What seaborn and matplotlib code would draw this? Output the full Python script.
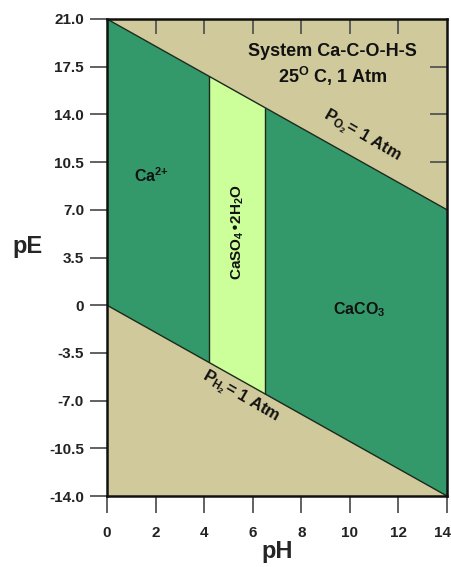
import numpy as np
import matplotlib
matplotlib.use("Agg")
import matplotlib.pyplot as plt
from matplotlib.transforms import ScaledTranslation
import seaborn as sns

# stability field boundaries (pH -> pE)
ph_edges = [0.0, 14.0]
pe_o2 = [21.0, 7.0]      # P_O2 = 1 atm
pe_h2 = [0.0, -14.0]     # P_H2 = 1 atm
gypsum_ph = [4.2, 6.5]   # CaSO4.2H2O field limits

x_ticks = [0, 2, 4, 6, 8, 10, 12, 14]
y_ticks = [21.0, 17.5, 14.0, 10.5, 7.0, 3.5, 0, -3.5, -7.0, -10.5, -14.0]
y_labels = ["21.0", "17.5", "14.0", "10.5", "7.0", "3.5", "0", "-3.5", "-7.0", "-10.5", "-14.0"]

tan = "#d0c99b"
green = "#33996a"
light = "#ccff99"

sns.set_style("ticks")
plt.rcParams["font.family"] = ["Liberation Sans", "DejaVu Sans"]
plt.rcParams["font.weight"] = "bold"
plt.rcParams["mathtext.default"] = "regular"

fig = plt.figure(figsize=(4.52, 5.67), dpi=100)
ax = fig.add_axes([0.2367, 0.1252, 0.7523, 0.8413])
ax.set_facecolor(tan)

# water stability field
ax.fill_between(ph_edges, pe_h2, pe_o2, color=green, lw=0)
gx = np.array(gypsum_ph)
ax.fill_between(gx, np.interp(gx, ph_edges, pe_h2), np.interp(gx, ph_edges, pe_o2),
                color=light, lw=0)

sns.lineplot(x=ph_edges, y=pe_o2, ax=ax, color="#1c2a1c", lw=1.0)
sns.lineplot(x=ph_edges, y=pe_h2, ax=ax, color="#1c2a1c", lw=1.0)
ax.vlines(gx, np.interp(gx, ph_edges, pe_h2), np.interp(gx, ph_edges, pe_o2),
          color="#1c2a1c", lw=1.0)

ax.set_xlim(0, 14)
ax.set_ylim(-14, 21)
ax.set_xticks(x_ticks)
ax.set_yticks(y_ticks)
ax.set_yticklabels(y_labels)
ax.tick_params(direction="out", length=12.5, width=1.3, color="#555555",
               labelsize=11, pad=4, labelcolor="#222222")
ax.tick_params(axis="x", pad=9)
for s in ax.spines.values():
    s.set_linewidth(1.8)
    s.set_color("#111111")

# last pH label sits at the figure edge; nudge it in a little
lab = ax.get_xticklabels()[-1]
lab.set_transform(lab.get_transform() + ScaledTranslation(-0.05, 0, fig.dpi_scale_trans))

top = ax.secondary_xaxis("top")
top.set_xticks(x_ticks[1:-1])
top.tick_params(direction="in", length=11, width=1.3, color="#555555", labeltop=False)
right = ax.secondary_yaxis("right")
right.set_yticks(y_ticks[1:-1])
right.tick_params(direction="in", length=12, width=1.3, color="#555555", labelright=False)

ax.set_xlabel("pH", fontsize=17, fontweight="bold", labelpad=0)
ax.set_ylabel("pE", fontsize=17, fontweight="bold", rotation=0)
ax.yaxis.set_label_coords(-0.235, 0.5)

kw = dict(fontweight="bold", color="#111111", ha="center", va="center")
ax.text(9.3, 18.6, "System Ca-C-O-H-S", fontsize=13, **kw)
ax.text(9.3, 16.8, r"25$^{O}$ C, 1 Atm", fontsize=13, **kw)
ax.text(1.85, 9.5, r"Ca$^{2{+}}$", fontsize=11.5, **kw)
ax.text(5.4, 5.4, r"CaSO$_4$•2H$_2$O", fontsize=11, rotation=90, **kw)
ax.text(10.4, -0.3, r"CaCO$_3$", fontsize=11.5, **kw)
ax.text(10.5, 12.4, r"P$_{O_2}$= 1 Atm", fontsize=12, rotation=-30, **kw)
ax.text(5.5, -6.7, r"P$_{H_2}$= 1 Atm", fontsize=12, rotation=-30, **kw)

fig.savefig("out.png", dpi=100)
